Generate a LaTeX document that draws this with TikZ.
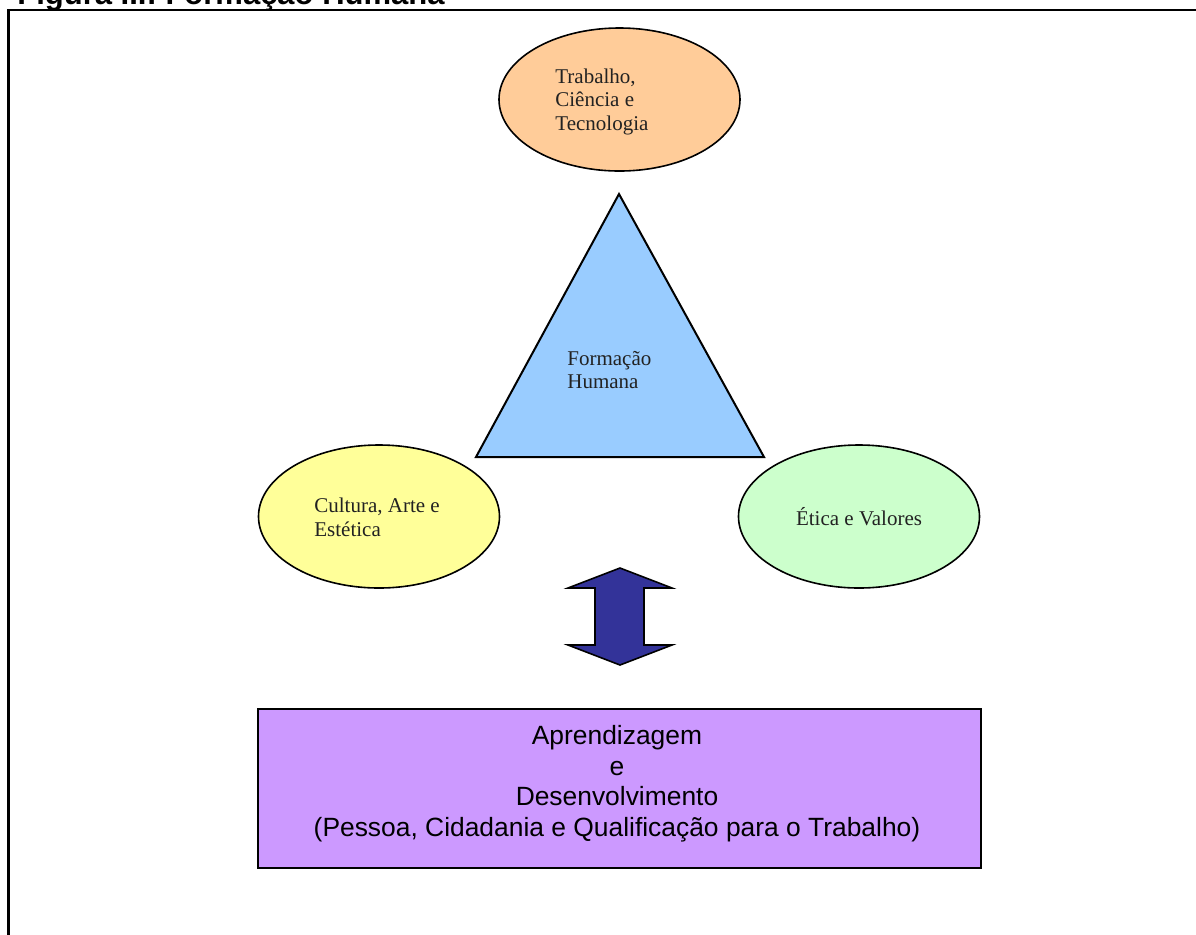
\documentclass[tikz,border=0pt]{standalone}
\usepackage{fontspec}
\setmainfont{Liberation Serif}
\newfontfamily\arialfont{Liberation Sans}
\usetikzlibrary{shapes.geometric}
\definecolor{peachfill}{HTML}{FFCC99}
\definecolor{yellowfill}{HTML}{FFFF99}
\definecolor{greenfill}{HTML}{CCFFCC}
\definecolor{bluefill}{HTML}{99CCFF}
\definecolor{arrowfill}{HTML}{333399}
\definecolor{boxfill}{HTML}{CC99FF}
\definecolor{txt}{HTML}{222222}
\tikzset{
  ell/.style={ellipse, draw=black, line width=0.8pt, minimum width=120.5pt, minimum height=71.5pt, inner sep=0pt},
  serif/.style={inner sep=0pt, align=left, text=txt, font=\fontsize{10.5}{11.75}\selectfont},
  frameline/.style={line width=1.15pt, black},
  bigbox/.style={rectangle, draw=black, line width=1pt, fill=boxfill, minimum width=361.5pt, minimum height=79.5pt, inner sep=0pt},
  boxtext/.style={inner sep=0pt, align=center, text=black, font=\arialfont\fontsize{13.2}{15.4}\selectfont},
  titletext/.style={inner sep=0pt, text=black, font=\arialfont\bfseries\fontsize{15.5}{18}\selectfont}
}
\begin{document}
\begin{tikzpicture}[x=0.5pt,y=-0.5pt]
\useasboundingbox (0,0) rectangle (1196,934);
\clip (0,0) rectangle (1196,934);
\fill[white] (0,0) rectangle (1196,934);
% title (cut at top)
\node[titletext, anchor=base west] (title) at (17,4) {Figura III: Formação Humana};
% frame
\coordinate (fbl) at (8.5,940);
\coordinate (ftl) at (8.5,10.3);
\coordinate (ftr) at (1200,10.3);
\draw[frameline] (fbl) -- (ftl) -- (ftr);
% ellipses
\node[ell, fill=peachfill] (top) at (619.5,99.5) {};
\node[serif, anchor=west] (toptext) at (555,101.6) {Trabalho,\\Ciência e\\Tecnologia};
\node[ell, fill=yellowfill] (left) at (379,516.5) {};
\node[serif, anchor=west] (lefttext) at (314,517.4) {Cultura, Arte e\\Estética};
\node[ell, fill=greenfill] (right) at (859,516.5) {};
\node[serif, anchor=base] (righttext) at (859,525) {Ética e Valores};
% triangle
\coordinate (tA) at (619,194);
\coordinate (tB) at (476,457);
\coordinate (tC) at (764,457);
\draw[line width=1pt, fill=bluefill, line join=miter] (tA) -- (tB) -- (tC) -- cycle;
\node[serif, anchor=west] (tritext) at (567,370) {Formação\\Humana};
% double arrow
\draw[line width=0.8pt, fill=arrowfill, line join=miter]
  (620,568) -- (672,588) -- (644,588) -- (644,645) -- (672,645) -- (620,665)
  -- (568,645) -- (595,645) -- (595,588) -- (568,588) -- cycle;
% box
\node[bigbox] (box) at (619.5,788.5) {};
\node[boxtext] (boxtxt) at (617,783.8) {Aprendizagem\\e\\Desenvolvimento\\(Pessoa, Cidadania e Qualificação para o Trabalho)};
\end{tikzpicture}
\end{document}
